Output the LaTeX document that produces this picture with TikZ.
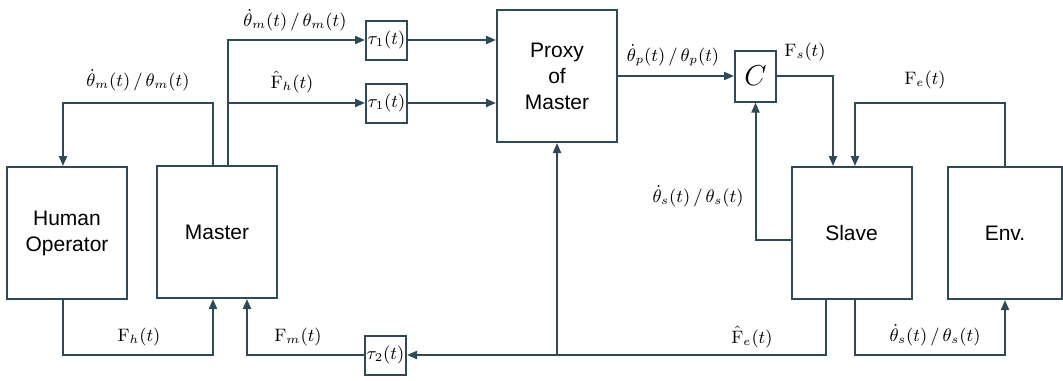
\documentclass[tikz,border=0pt]{standalone}
\usepackage{fontspec}
\newfontfamily\blockfont{Liberation Sans}
\usetikzlibrary{arrows.meta}

\definecolor{wire}{rgb}{0.18,0.29,0.35}

\tikzset{
  block/.style={draw=wire, line width=1pt, minimum width=60pt, minimum height=66pt, inner sep=0pt, align=center, font=\blockfont\fontsize{10.5}{13}\selectfont},
  delay/.style={draw=wire, line width=1pt, minimum width=20.5pt, minimum height=19.5pt, inner sep=0pt, font=\small},
  sig/.style={draw=wire, line width=1pt, -{Triangle[length=5pt,width=4pt]}},
  lbl/.style={inner sep=1pt, font=\small}
}

\begin{document}
\begin{tikzpicture}[x=0.5pt,y=-0.5pt]
        \useasboundingbox (0,0) rectangle (1063,380);

        % blocks
        \node[block] (human)  at (67,233)    {Human\\Operator};
        \node[block] (master) at (217,232)   {Master};
        \node[block] (proxy)  at (557,76)    {Proxy\\of\\Master};
        \node[block] (slave)  at (851.5,233) {Slave};
        \node[block, minimum width=57pt] (env) at (1005,233) {Env.};
        \node[delay] (taua) at (386.5,40)  {$\tau_1(t)$};
        \node[delay] (taub) at (386.5,103) {$\tau_1(t)$};
        \node[delay] (tauc) at (385.5,355) {$\tau_2(t)$};
        \node[delay, minimum height=25.5pt, font=\Large] (ctrl) at (755.5,76) {$C$};
        \coordinate (split) at (proxy.south |- tauc.east);

        % master side
        \draw[sig] (master.north -| 228,0) |- (taua.west);
        \draw[sig] (master.north -| 228,0) |- (taub.west);
        \draw[sig] (master.north -| 213,0) -- (213,103) -| (human.north -| 63,0);
        \draw[sig] (human.south -| 63,0) -- (63,355) -| (master.south -| 213,0);
        \draw[sig] (taua.east) -- (proxy.west |- taua.east);
        \draw[sig] (taub.east) -- (proxy.west |- taub.east);

        % slave side
        \draw[sig] (proxy.east) -- (ctrl.west);
        \draw[sig] (ctrl.east) -| (slave.north -| 833,0);
        \draw[sig] (env.north) -- (env.north |- 0,103) -| (slave.north -| 855,0);
        \draw[sig] (slave.west |- 0,240) -| (ctrl.south);
        \draw[sig] (slave.south -| 855,0) -- (855,355) -| (env.south);

        % force feedback
        \draw[sig] (slave.south -| 826,0) |- (tauc.east);
        \draw[sig] (split) -- (proxy.south);
        \draw[sig] (tauc.west) -| (master.south -| 247,0);

        % labels
        \node[lbl] (lthm)  at (295,20)  {$\dot{\theta}_m(t)\,/\,\theta_m(t)$};
        \node[lbl] (lfh)   at (292,82)  {$\hat{\mathrm{F}}_h(t)$};
        \node[lbl] (lthmb) at (138,80)  {$\dot{\theta}_m(t)\,/\,\theta_m(t)$};
        \node[lbl] (lthp)  at (673,55)  {$\dot{\theta}_p(t)\,/\,\theta_p(t)$};
        \node[lbl] (lfs)   at (805,52)  {$\mathrm{F}_s(t)$};
        \node[lbl] (lfe)   at (925,80)  {$\mathrm{F}_e(t)$};
        \node[lbl] (lths)  at (698,196) {$\dot{\theta}_s(t)\,/\,\theta_s(t)$};
        \node[lbl] (lfhb)  at (139,337) {$\mathrm{F}_h(t)$};
        \node[lbl] (lfm)   at (298,337) {$\mathrm{F}_m(t)$};
        \node[lbl] (lfeh)  at (752,337) {$\hat{\mathrm{F}}_e(t)$};
        \node[lbl] (lthsb) at (935,335) {$\dot{\theta}_s(t)\,/\,\theta_s(t)$};

    \end{tikzpicture}
\end{document}
